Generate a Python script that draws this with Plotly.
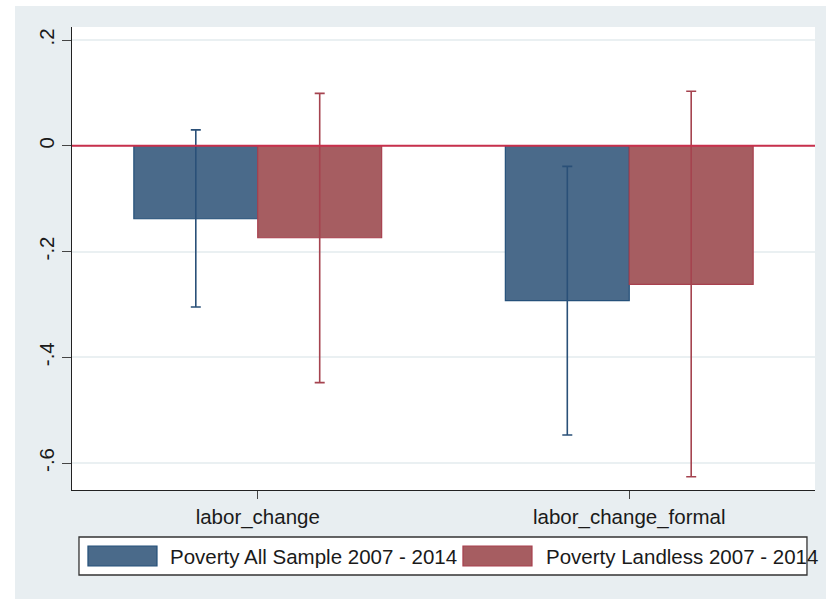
import plotly.graph_objects as go

# Estimated effects with 95% confidence intervals
categories = ["labor_change", "labor_change_formal"]
series_names = ["Poverty All Sample 2007 - 2014", "Poverty Landless 2007 - 2014"]
all_sample = [-0.138, -0.293]
all_sample_lo = [-0.305, -0.547]
all_sample_hi = [0.030, -0.039]
landless = [-0.174, -0.262]
landless_lo = [-0.448, -0.626]
landless_hi = [0.099, 0.103]
y_tickvals = [0.2, 0, -0.2, -0.4, -0.6]
y_ticktext = [".2", "0", "-.2", "-.4", "-.6"]

FONT = "Liberation Sans, Arial, sans-serif"
FSIZE = 20.5
BG = "#e8eef1"
FILLS = ["#4a6a8a", "#a65d61"]
EDGES = ["#25507a", "#a8404e"]
ERRS = ["#2a5078", "#a5434f"]

def err(vals, lo, hi, color):
    return dict(
        type="data",
        symmetric=False,
        array=[h - v for v, h in zip(vals, hi)],
        arrayminus=[v - l for v, l in zip(vals, lo)],
        color=color,
        thickness=1.6,
        width=5,
    )

fig = go.Figure()
fig.add_trace(go.Bar(
    x=categories, y=all_sample, name=series_names[0],
    marker=dict(color=FILLS[0], line=dict(color=EDGES[0], width=1.2)),
    error_y=err(all_sample, all_sample_lo, all_sample_hi, ERRS[0]),
))
fig.add_trace(go.Bar(
    x=categories, y=landless, name=series_names[1],
    marker=dict(color=FILLS[1], line=dict(color=EDGES[1], width=1.2)),
    error_y=err(landless, landless_lo, landless_hi, ERRS[1]),
))

# zero reference line
fig.add_shape(type="line", xref="paper", yref="y", x0=0, x1=1, y0=0, y1=0,
              line=dict(color="#c8304c", width=1.8), layer="above")

# white page strips outside the graph region
fig.add_shape(type="rect", xref="paper", yref="paper",
              x0=-0.12, x1=-0.0767, y0=-0.3, y1=1.1,
              fillcolor="white", line_width=0, layer="below")
fig.add_shape(type="rect", xref="paper", yref="paper",
              x0=-0.12, x1=1.1, y0=1.0454, y1=1.1,
              fillcolor="white", line_width=0, layer="below")

# legend box with wide colour keys below the axis
fig.add_shape(type="rect", xref="paper", yref="paper",
              x0=0.0094, x1=0.9892, y0=-0.1836, y1=-0.1015,
              fillcolor="white", line=dict(color="#333333", width=1.3),
              layer="above")
key_x = [(0.0215, 0.1144), (0.5262, 0.6191)]
text_x = [0.1292, 0.6353]
for i, name in enumerate(series_names):
    fig.add_shape(type="rect", xref="paper", yref="paper",
                  x0=key_x[i][0], x1=key_x[i][1], y0=-0.1642, y1=-0.1210,
                  fillcolor=FILLS[i], line=dict(color=EDGES[i], width=1.2),
                  layer="above")
    fig.add_annotation(xref="paper", yref="paper", x=text_x[i], y=-0.1426,
                       xanchor="left", yanchor="middle", showarrow=False,
                       text=name, font=dict(family=FONT, size=FSIZE, color="#1a1a1a"))

fig.update_layout(
    width=826, height=599,
    margin=dict(l=72, r=11, t=27, b=109),
    paper_bgcolor=BG,
    plot_bgcolor="white",
    barmode="group",
    bargap=0.333,
    bargroupgap=0,
    font=dict(family=FONT, size=FSIZE, color="#1a1a1a"),
    showlegend=False,
    xaxis=dict(
        range=[-0.5, 1.5],
        showline=True, linecolor="#222222", linewidth=1.2,
        ticks="outside", ticklen=8, tickcolor="#444444", tickwidth=1.2,
        showgrid=False, zeroline=False,
        tickfont=dict(family=FONT, size=FSIZE, color="#1a1a1a"),
    ),
    yaxis=dict(
        range=[-0.651, 0.2246],
        tickvals=y_tickvals, ticktext=y_ticktext,
        tickangle=-90,
        showline=True, linecolor="#222222", linewidth=1.2,
        ticks="outside", ticklen=9, tickcolor="#444444", tickwidth=1.2,
        showgrid=True, gridcolor="#eaf0f2", gridwidth=1.5,
        zeroline=False,
        tickfont=dict(family=FONT, size=FSIZE, color="#1a1a1a"),
    ),
)

fig.write_html("out.html")
